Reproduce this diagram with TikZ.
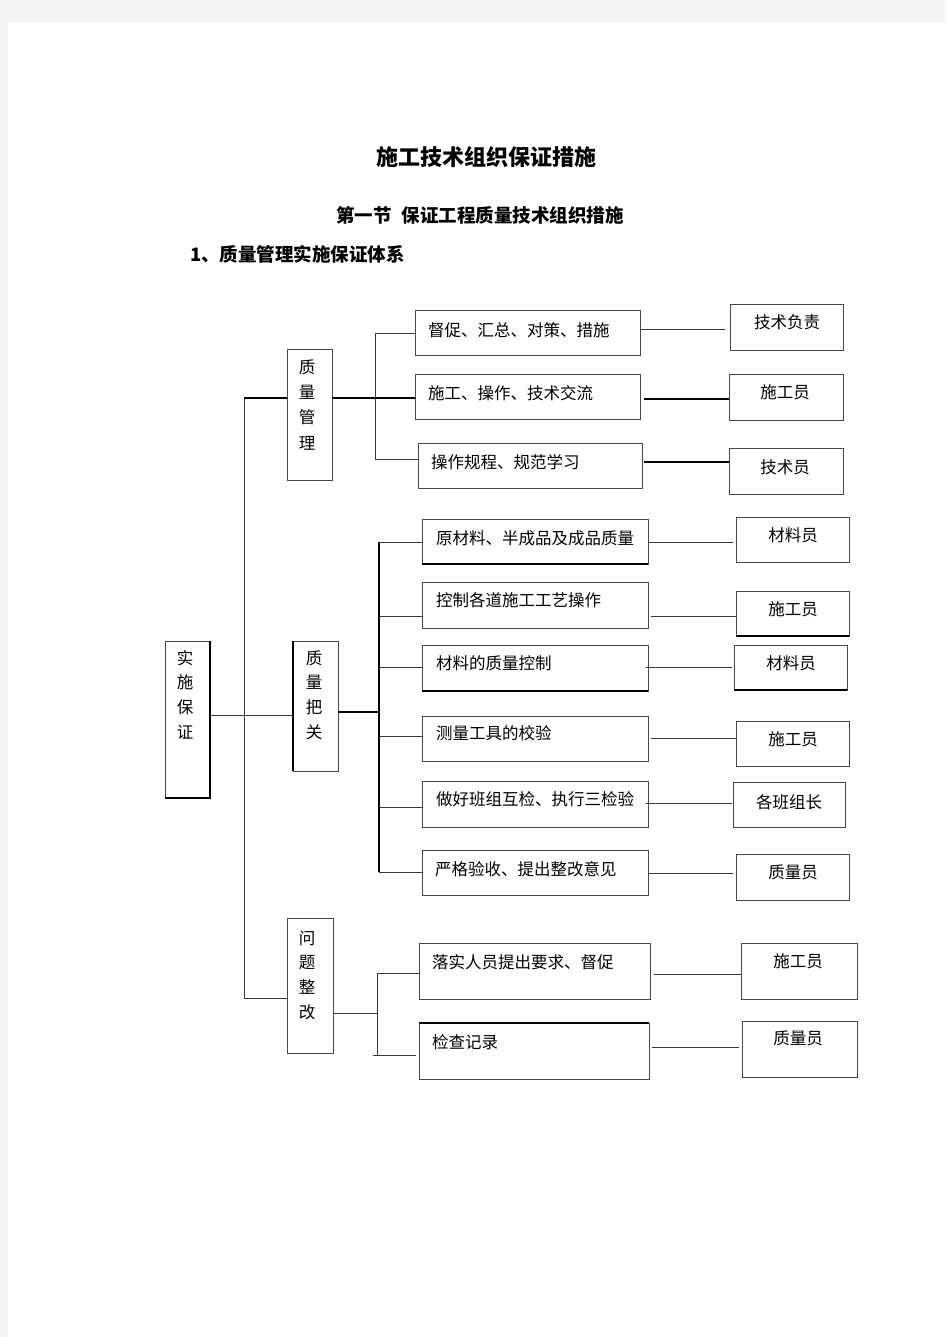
\documentclass[tikz,border=0pt]{standalone}
\usepackage{fontspec}
\setmainfont{Noto Sans CJK SC}
\usetikzlibrary{calc}
\newcommand\bxn[5]{\node[bx,minimum width={#4-#2},minimum height={#5-#3}] (#1) at ({(#2+#4)/2},{(#3+#5)/2}) {};}
\begin{document}
\begin{tikzpicture}[x=1pt,y=-1pt,
  bx/.style={draw=black!72,line width=1pt,inner sep=0pt,outer sep=0pt},
  thinln/.style={draw=black!78,line width=1pt},
  thkln/.style={draw=black,line width=2pt},
  txt/.style={inner sep=0pt,font=\fontsize{16.5}{20}\selectfont},
  ttl/.style={inner sep=0pt,font=\bfseries\fontsize{22}{26}\selectfont},
  sub/.style={inner sep=0pt,font=\bfseries\fontsize{18.5}{22}\selectfont}]
\useasboundingbox (0,0) rectangle (945,1337);
\fill[black!4] (0,0) rectangle (945,1337);
\fill[white] (8,22) rectangle (945,1337);
% titles
\node[ttl] (title) at (486,157) {施工技术组织保证措施};
\node[sub] (subtitle) at (480,215) {第一节\hspace{0.55em}保证工程质量技术组织措施};
\node[sub,anchor=west] (heading) at (190,254) {1、质量管理实施保证体系};
% boxes
\bxn{A}{165}{641}{210}{798}
\bxn{QM}{287}{349}{332}{480}
\bxn{QC}{293}{641}{338}{771}
\bxn{WT}{287}{918}{333}{1053}
\bxn{M1}{415}{310}{640}{355}
\bxn{M2}{415}{374}{640}{419}
\bxn{M3}{418}{443}{642}{488}
\bxn{R1}{730}{304}{843}{350}
\bxn{R2}{729}{374}{843}{420}
\bxn{R3}{729}{448}{843}{494}
\bxn{C1}{422}{519}{648}{564}
\bxn{C2}{422}{582}{648}{628}
\bxn{C3}{422}{645}{648}{691}
\bxn{C4}{422}{716}{648}{761}
\bxn{C5}{422}{781}{648}{827}
\bxn{C6}{422}{850}{648}{895}
\bxn{S1}{736}{517}{849}{562}
\bxn{S2}{736}{591}{849}{636}
\bxn{S3}{734}{645}{847}{690}
\bxn{S4}{736}{721}{849}{766}
\bxn{S5}{733}{782}{845}{827}
\bxn{S6}{736}{854}{849}{900}
\bxn{P1}{419}{943}{650}{999}
\bxn{P2}{419}{1023}{649}{1079}
\bxn{T1}{741}{943}{857}{999}
\bxn{T2}{742}{1021}{857}{1077}
% thick edges
\draw[thkln] (A.north east) -- (A.south east) -- (A.south west);
\draw[thkln] (QC.north west) -- (QC.south west);
\draw[thkln] (C1.south west) -- (C1.south east);
\draw[thkln] (C3.south west) -- (C3.south east);
\draw[thkln] (S2.south west) -- (S2.south east);
\draw[thkln] (S3.south west) -- (S3.south east);
\draw[thkln] (P2.north west) -- (P2.north east);
% vertical texts
\foreach \c [count=\i] in {实,施,保,证} \node[txt] (At\i) at (185,{658+24.7*(\i-1)}) {\c};
\foreach \c [count=\i] in {质,量,管,理} \node[txt] (QMt\i) at (307,{367+25.3*(\i-1)}) {\c};
\foreach \c [count=\i] in {质,量,把,关} \node[txt] (QCt\i) at (314,{658+24.7*(\i-1)}) {\c};
\foreach \c [count=\i] in {问,题,整,改} \node[txt] (WTt\i) at (307,{938+24.7*(\i-1)}) {\c};
% horizontal texts
\node[txt,anchor=west] (M1t) at (428,330) {督促、汇总、对策、措施};
\node[txt,anchor=west] (M2t) at (428,393) {施工、操作、技术交流};
\node[txt,anchor=west] (M3t) at (431,462) {操作规程、规范学习};
\node[txt] (R1t) at (787,322) {技术负责};
\node[txt] (R2t) at (785,392) {施工员};
\node[txt] (R3t) at (785,467) {技术员};
\node[txt,anchor=west] (C1t) at (436,538) {原材料、半成品及成品质量};
\node[txt,anchor=west] (C2t) at (436,600) {控制各道施工工艺操作};
\node[txt,anchor=west] (C3t) at (436,663) {材料的质量控制};
\node[txt,anchor=west] (C4t) at (436,733) {测量工具的校验};
\node[txt,anchor=west] (C5t) at (436,799) {做好班组互检、执行三检验};
\node[txt,anchor=west] (C6t) at (435,869) {严格验收、提出整改意见};
\node[txt] (S1t) at (793,535) {材料员};
\node[txt] (S2t) at (793,609) {施工员};
\node[txt] (S3t) at (791,663) {材料员};
\node[txt] (S4t) at (793,739) {施工员};
\node[txt] (S5t) at (789,802) {各班组长};
\node[txt] (S6t) at (793,872) {质量员};
\node[txt,anchor=west] (P1t) at (432,962) {落实人员提出要求、督促};
\node[txt,anchor=west] (P2t) at (432,1042) {检查记录};
\node[txt] (T1t) at (798,961) {施工员};
\node[txt] (T2t) at (798,1038) {质量员};
% main trunk
\coordinate (vt) at (244,398);
\coordinate (vb) at (244,998);
\draw[thinln] (vt) -- (vb);
\draw[thkln] (vt) -- (QM.west |- vt);
\draw[thinln] (vb) -- (WT.west |- vb);
\draw[thinln] (A.east |- 0,715) -- (QC.west |- 0,715);
% quality management branch
\coordinate (qmt) at (375,333);
\coordinate (qmb) at (375,459);
\draw[thkln] (QM.east |- vt) -- (M2.west |- vt);
\draw[thinln] (M1.west |- qmt) -- (qmt) -- (qmb) -- (M3.west |- qmb);
\draw[thinln] (M1.east |- 0,329) -- ($(R1.west |- 0,329)+(-5,0)$);
\draw[thkln] ($(M2.east |- 0,399)+(4,0)$) -- (R2.west |- 0,399);
\draw[thkln] ($(M3.east |- 0,462)+(2,0)$) -- (R3.west |- 0,462);
% quality check branch
\coordinate (qct) at (379,542);
\coordinate (qcb) at (379,872);
\draw[thkln] (QC.east |- 0,712) -- (qct |- 0,712);
\draw[thkln] (qct) -- (qcb);
\foreach \b/\y in {C1/542,C2/616,C3/667,C4/736,C5/807,C6/872}
  \draw[thinln] (qct |- 0,\y) -- (\b.west |- 0,\y);
\draw[thinln] (C1.east |- 0,542) -- ($(S1.west |- 0,542)+(-3,0)$);
\draw[thinln] ($(C2.east |- 0,616)+(3,0)$) -- (S2.west |- 0,616);
\draw[thinln] ($(C3.east |- 0,667)+(-2,0)$) -- ($(S3.west |- 0,667)+(-2,0)$);
\draw[thinln] ($(C4.east |- 0,738)+(3,0)$) -- (S4.west |- 0,738);
\draw[thinln] ($(C5.east |- 0,803)+(-2,0)$) -- ($(S5.west |- 0,803)+(-1,0)$);
\draw[thinln] (C6.east |- 0,873) -- ($(S6.west |- 0,873)+(-3,0)$);
% problem rectification branch
\coordinate (wtt) at (377,973);
\coordinate (wtb) at (377,1055);
\draw[thinln] (WT.east |- 0,1013) -- (wtt |- 0,1013);
\draw[thinln] (wtt) -- (wtb);
\draw[thinln] (wtt) -- (P1.west |- wtt);
\draw[thinln] ($(wtb)+(-4,0)$) -- ($(P2.west |- wtb)+(-3,0)$);
\draw[thinln] ($(P1.east |- 0,974)+(4,0)$) -- (T1.west |- 0,974);
\draw[thinln] ($(P2.east |- 0,1047)+(3,0)$) -- ($(T2.west |- 0,1047)+(-3,0)$);
\end{tikzpicture}
\end{document}
